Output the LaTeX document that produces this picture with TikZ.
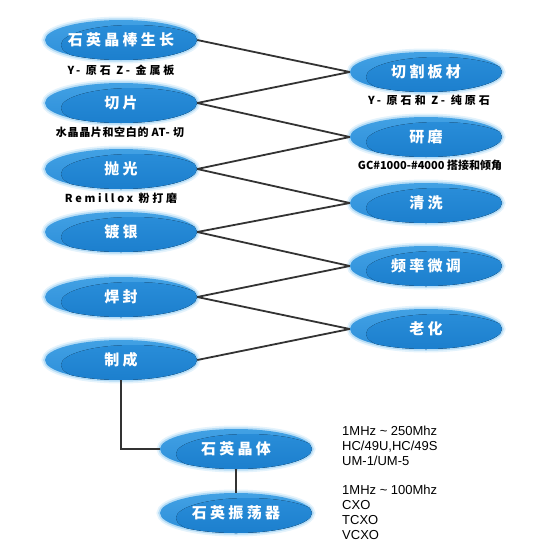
\documentclass[tikz,border=0pt]{standalone}
\usepackage{fontspec}
\setmainfont{Liberation Sans}
\newfontfamily\cjk{Noto Sans CJK SC}
\usetikzlibrary{shapes.geometric}
\definecolor{ovaltop}{HTML}{42A1E4}
\definecolor{ovalbot}{HTML}{2C8ED9}
\definecolor{innertop}{HTML}{2B8FDA}
\definecolor{innerbot}{HTML}{1A7DCC}
\definecolor{glowout}{HTML}{E4F3FC}
\definecolor{glowin}{HTML}{B5DCF6}
\definecolor{linkgray}{HTML}{333333}
\tikzset{
	oval/.style={ellipse,minimum width=152pt,minimum height=40pt,inner sep=0pt,
		preaction={draw=glowout,line width=7pt},
		preaction={draw=glowin,line width=3.5pt},
		top color=ovaltop,bottom color=ovalbot,text=white,
		font=\cjk\bfseries\fontsize{15}{17}\selectfont\addfontfeature{LetterSpace=22},
		path picture={\fill[top color=innertop,bottom color=innerbot] ([xshift=12pt,yshift=-5pt]path picture bounding box.center) ellipse (72pt and 20pt);}},
	note/.style={inner sep=0pt,font=\cjk\bfseries\fontsize{11}{13}\selectfont},
	spec/.style={inner sep=0pt,align=left,anchor=north west,font=\fontsize{13}{14.8}\selectfont},
	link/.style={draw=linkgray,line width=1.8pt}
}
\begin{document}
\begin{tikzpicture}[x=1pt,y=-1pt]
	\useasboundingbox (0,0) rectangle (556,554);
	% left column
	\node[oval] (grow) at (121,40) {石英晶棒生长};
	\node[oval] (slice) at (121,103) {切片};
	\node[oval] (polish) at (121,169) {抛光};
	\node[oval] (silver) at (121,232) {镀银};
	\node[oval] (seal) at (121,297) {焊封};
	\node[oval] (finish) at (121,360) {制成};
	% right column
	\node[oval] (cut) at (426,72) {切割板材};
	\node[oval] (grind) at (426,137) {研磨};
	\node[oval] (clean) at (426,203) {清洗};
	\node[oval] (tune) at (426,266) {频率微调};
	\node[oval] (aging) at (426,329) {老化};
	% products
	\node[oval] (crystal) at (236,449) {石英晶体};
	\node[oval] (osc) at (236,513) {石英振荡器};
	
	\node[note] (notegrow) at (121,70) {\addfontfeature{LetterSpace=27}Y- 原石 Z- 金属板};
	\node[note] (noteslice) at (120,132) {\addfontfeature{LetterSpace=6}水晶晶片和空白的 AT- 切};
	\node[note] (notepolish) at (121,198) {\addfontfeature{LetterSpace=25}Remillox 粉打磨};
	\node[note] (notecut) at (429,100) {\addfontfeature{LetterSpace=28}Y- 原石和 Z- 纯原石};
	\node[note] (notegrind) at (430,165) {GC\#1000-\#4000 搭接和倾角};
	
	\node[spec] (speccrystal) at (342,426) {1MHz \textasciitilde\ 250Mhz\\HC/49U,HC/49S\\UM-1/UM-5};
	\node[spec] (specosc) at (342,485) {1MHz \textasciitilde\ 100Mhz\\CXO\\TCXO\\VCXO};
	
	\draw[link] (grow.east)--(cut.west) (slice.east)--(cut.west);
	\draw[link] (slice.east)--(grind.west) (polish.east)--(grind.west);
	\draw[link] (polish.east)--(clean.west) (silver.east)--(clean.west);
	\draw[link] (silver.east)--(tune.west) (seal.east)--(tune.west);
	\draw[link] (seal.east)--(aging.west) (finish.east)--(aging.west);
	\draw[link] (finish.south)|-(crystal.west);
	\draw[link] (crystal.south)--(osc.north);
\end{tikzpicture}
\end{document}
